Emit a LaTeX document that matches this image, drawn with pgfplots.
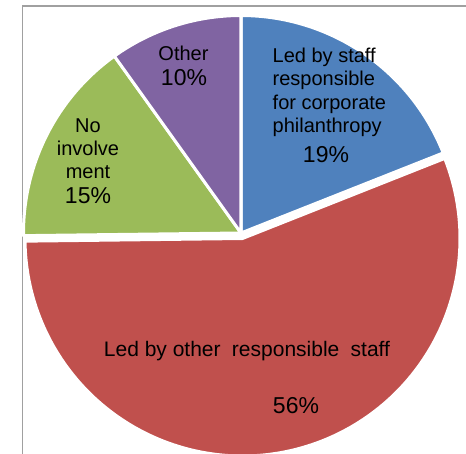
\documentclass[border=0pt]{standalone}
\usepackage{pgfplots}
\pgfplotsset{compat=1.18}
\usepgfplotslibrary{polar}
\usepackage{fontspec}
\setmainfont{Liberation Sans}
\definecolor{pieblue}{HTML}{4F81BD}
\definecolor{piered}{HTML}{C0504D}
\definecolor{piegreen}{HTML}{9BBB59}
\definecolor{piepurple}{HTML}{8064A2}
\definecolor{framegray}{HTML}{A0A0A0}
% Shares (percent): staff for corporate philanthropy 19.0, other responsible staff 55.8,
% no involvement 15.3, other 9.9  -> angles clockwise from 90 degrees
\begin{document}
\begin{tikzpicture}
\useasboundingbox (0bp,0bp) rectangle (466bp,454bp);
\fill[white] (0bp,0bp) rectangle (466bp,454bp);
\draw[framegray, line width=1.5bp] (22.7bp,0bp) -- (22.7bp,448bp) -- (470bp,448bp);
\pgfplotsset{pieax/.style={hide axis, scale only axis, width=435bp, height=435bp,
  xmin=0, xmax=360, ymin=0, ymax=1, clip=false, anchor=center}}
\begin{polaraxis}[pieax, at={(241bp,221bp)}]
  % 19.0 %
  \addplot[fill=pieblue, draw=white, line width=3bp, line join=round, domain=21.6:90, samples=80] {1} -- (axis cs:0,0) -- cycle;
  % 15.3 %
  \addplot[fill=piegreen, draw=white, line width=3bp, line join=round, domain=125.6:180.7, samples=80] {1} -- (axis cs:0,0) -- cycle;
  % 9.9 %
  \addplot[fill=piepurple, draw=white, line width=3bp, line join=round, domain=90:125.6, samples=60] {1} -- (axis cs:0,0) -- cycle;
\end{polaraxis}
\begin{polaraxis}[pieax, at={(242.5bp,215.5bp)}]
  % 55.8 %, exploded
  \addplot[fill=piered, draw=white, line width=3bp, line join=round, domain=-179.3:21.6, samples=200] {1} -- (axis cs:0,0) -- cycle;
\end{polaraxis}
\begin{scope}[x=1bp,y=1bp]
\fontsize{20bp}{23.3bp}\selectfont
\node[anchor=north west, align=left, inner sep=0pt] at (272.5,454-48) {Led by staff\\responsible\\for corporate\\philanthropy};
\node[inner sep=0pt, anchor=base] at (326,454-162) {\fontsize{23bp}{26bp}\selectfont 19\%};
\node[inner sep=0pt, anchor=base] at (183.5,454-61) {Other};
\node[inner sep=0pt, anchor=base] at (184,454-85) {\fontsize{23bp}{26bp}\selectfont 10\%};
\node[inner sep=0pt, anchor=base] at (88,454-132) {No};
\node[inner sep=0pt, anchor=base] at (88,454-155.5) {involve};
\node[inner sep=0pt, anchor=base] at (88,454-178) {ment};
\node[inner sep=0pt, anchor=base] at (88,454-203) {\fontsize{23bp}{26bp}\selectfont 15\%};
\node[inner sep=0pt, anchor=base] at (247,454-356) {\fontsize{21bp}{24bp}\selectfont Led by other\hspace{5.5bp} responsible\hspace{5.5bp} staff};
\node[inner sep=0pt, anchor=base] at (296,454-413) {\fontsize{23bp}{26bp}\selectfont 56\%};
\end{scope}
\end{tikzpicture}
\end{document}
